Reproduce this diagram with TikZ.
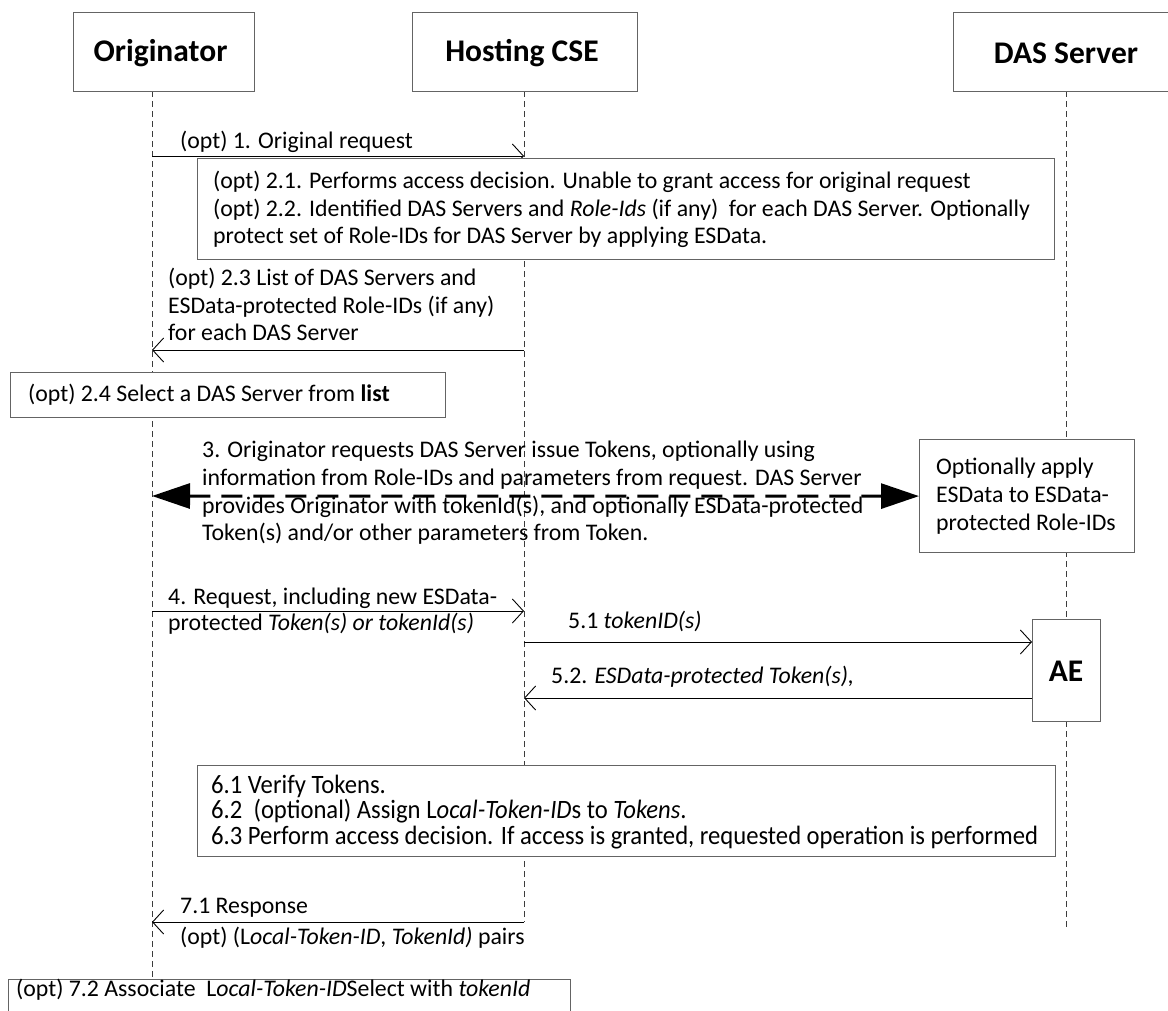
\documentclass[tikz,border=0pt]{standalone}
\usepackage{fontspec}
\setmainfont{Carlito}
\usetikzlibrary{arrows.meta}
\definecolor{boxgray}{RGB}{100,100,100}
\definecolor{linegray}{RGB}{60,60,60}
\tikzset{
  body/.style={font=\fontsize{23.8}{27.7}\selectfont, inner sep=0pt, align=left, anchor=west},
  head/.style={font=\fontsize{31.5}{36}\selectfont\bfseries, inner sep=0pt},
  frame/.style={draw=boxgray, line width=1.2pt, fill=white, inner sep=0pt},
  lifeline/.style={draw=linegray, line width=0.9pt, dash pattern=on 6pt off 4pt},
  msg/.style={draw=black, line width=0.9pt, -{Straight Barb[length=11pt,width=24pt,line width=0.9pt]}},
  bigmsg/.style={draw=black, line width=3pt, dash pattern=on 21pt off 11pt,
    {Triangle[length=38pt,width=25pt]}-{Triangle[length=38pt,width=25pt]}}
}
\begin{document}
\begin{tikzpicture}[x=1pt,y=-1pt]
\useasboundingbox (0,0) rectangle (1168,1010);
\clip (0,0) rectangle (1168,1010);
% lifeline coordinates
\coordinate (Otop) at (152,91);
\coordinate (Obot) at (152,1010);
\coordinate (Htop) at (524,91);
\coordinate (Hbot) at (524,922);
\coordinate (Dtop) at (1066,91);
\coordinate (Dbot) at (1066,930);
\draw[lifeline] (Otop) -- (Obot);
\draw[lifeline] (Htop) -- (Hbot);
\draw[lifeline] (Dtop) -- (Dbot);
% headers
\node[frame, minimum width=181pt, minimum height=79pt, anchor=north west] (orig) at (73,12) {};
\node[head] (origtxt) at (160.5,53) {Originator};
\node[frame, minimum width=225pt, minimum height=79pt, anchor=north west] (host) at (412,12) {};
\node[head] (hosttxt) at (522,53) {Hosting CSE};
\node[frame, minimum width=226pt, minimum height=79pt, anchor=north west] (das) at (953,12) {};
\node[head] (dastxt) at (1066,53) {DAS Server};
% 1
\coordinate (o1) at (152,156);
\coordinate (h1) at (524,156);
\draw[msg] (o1) -- (h1);
\node[body] (t1) at (180,142) {(opt) 1. Original request};
% box 2
\node[frame, minimum width=857pt, minimum height=101pt, anchor=north west] (b2) at (197,158) {};
\node[body] (t2) at (213,209.5) {(opt) 2.1. Performs access decision. Unable to grant access for original request\\
(opt) 2.2. Identified DAS Servers and \textit{Role-Ids} (if any)\ \ for each DAS Server. Optionally\\
protect set of Role-IDs for DAS Server by applying ESData.};
% 2.3
\coordinate (h23) at (524,350);
\coordinate (o23) at (152,350);
\draw[msg] (h23) -- (o23);
\node[body] (t23) at (168,304.5) {(opt) 2.3 List of DAS Servers and\\ESData-protected Role-IDs (if any)\\for each DAS Server};
% 2.4
\node[frame, minimum width=435pt, minimum height=45pt, anchor=north west] (b24) at (10,372) {};
\node[body] (t24) at (28,395) {(opt) 2.4 Select a DAS Server from \textbf{list}};
% 3
\node[frame, minimum width=215pt, minimum height=113pt, anchor=north west] (rb) at (919,439) {};
\node[body] (trb) at (936,496) {Optionally apply\\ESData to ESData-\\protected Role-IDs};
\coordinate (o3) at (152,496);
\draw[bigmsg] (o3) -- (rb.west);
\node[body] (t3) at (202,493) {3. Originator requests DAS Server issue Tokens, optionally using\\information from Role-IDs and parameters from request. DAS Server\\provides Originator with tokenId(s), and optionally ESData-protected\\Token(s) and/or other parameters from Token.};
% 4
\coordinate (o4) at (152,611);
\coordinate (h4) at (524,611);
\draw[msg] (o4) -- (h4);
\node[body, font=\fontsize{23.8}{26.5}\selectfont] (t4) at (168,611) {4. Request, including new ESData-\\protected \textit{Token(s) or tokenId(s)}};
% AE
\node[frame, minimum width=68pt, minimum height=102pt, anchor=north west] (ae) at (1032,619) {};
\node[head] (aetxt) at (1066,671) {AE};
% 5.1
\coordinate (h51) at (524,642);
\draw[msg] (h51) -- (ae.west |- h51);
\node[body] (t51) at (568,621) {5.1 \textit{tokenID(s)}};
% 5.2
\coordinate (h52) at (524,698);
\draw[msg] (ae.west |- h52) -- (h52);
\node[body] (t52) at (551,677) {5.2. \textit{ESData-protected Token(s),}};
% box 6
\node[frame, minimum width=858pt, minimum height=91pt, anchor=north west] (b6) at (197,765) {};
\node[body, font=\addfontfeature{FakeStretch=0.93}\fontsize{26.5}{25.5}\selectfont] (t6) at (211,812) {6.1 Verify Tokens.\\
6.2\ \ (optional) Assign L\textit{ocal-Token-ID}s to \textit{Tokens}.\\
6.3 Perform access decision. If access is granted, requested operation is performed};
% 7.1
\coordinate (h71) at (524,922);
\coordinate (o71) at (152,922);
\draw[msg] (h71) -- (o71);
\node[body] (t71a) at (180,908) {7.1 Response};
\node[body] (t71b) at (180,938) {(opt) (L\textit{ocal-Token-ID}, \textit{TokenId)} pairs};
% 7.2
\node[frame, minimum width=562pt, minimum height=60pt, anchor=north west] (b72) at (8,979) {};
\node[body] (t72) at (16,990) {(opt) 7.2 Associate\ \ L\textit{ocal-Token-ID}Select with \textit{tokenId}};
\end{tikzpicture}
\end{document}
